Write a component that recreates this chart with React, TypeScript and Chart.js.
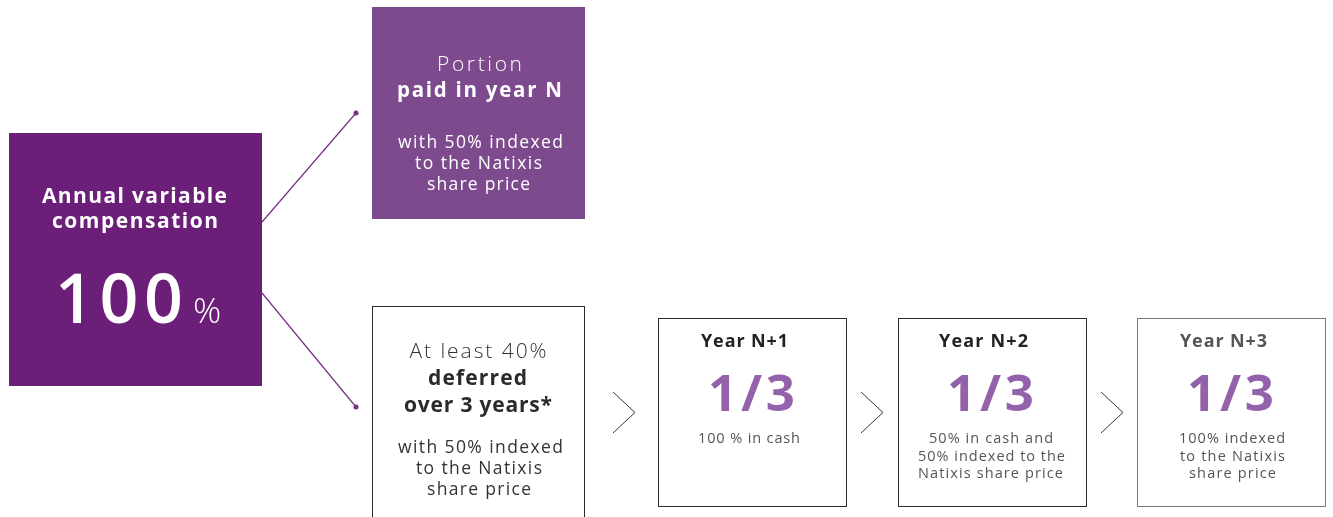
import React, { useEffect, useRef } from "react";
import { Chart, registerables } from "chart.js";
Chart.register(...registerables);

// ---- content ----
const totalLabel = ["Annual variable", "compensation"];
const totalValue = "100";
const totalUnit = "%";
const paidNowLines = ["Portion", "paid in year N"];
const paidNowNote = ["with 50% indexed", "to the Natixis", "share price"];
const deferredLines = ["At least 40%", "deferred", "over 3 years*"];
const deferredNote = ["with 50% indexed", "to the Natixis", "share price"];
const yearLabels = ["Year N+1", "Year N+2", "Year N+3"];
const yearShares = ["1/3", "1/3", "1/3"];
const yearNotes = [
  ["100 % in cash"],
  ["50% in cash and", "50% indexed to the", "Natixis share price"],
  ["100% indexed", "to the Natixis", "share price"],
];

// ---- layout (diagram coordinates on hidden linear axes) ----
const W = 1333;
const H = 517;
const L = {
  total: { x0: 9, y0: 133, x1: 262, y1: 386 },
  now: { x0: 372, y0: 7, x1: 585, y1: 219 },
  deferred: { x0: 372, y0: 306, x1: 585, y1: 540 },
  years: [
    { x0: 658, y0: 318, x1: 847, y1: 507 },
    { x0: 898, y0: 318, x1: 1087, y1: 507 },
    { x0: 1137, y0: 318, x1: 1326, y1: 507 },
  ],
  chevrons: [613, 861, 1101],
  connectorUp: [{ x: 262, y: 222 }, { x: 356, y: 113 }],
  connectorDown: [{ x: 262, y: 293 }, { x: 356, y: 407 }],
};
// text placement: [centerX, baseline, weight, size, width]
const T_total = [
  [134.5, 203, 700, 21, 185],
  [135, 228, 700, 21, 166],
];
const T_value = [119, 323, 600, 68, 128];
const T_unit = [208.5, 323, 300, 35, 31];
const T_now = [
  [479.5, 71, 300, 21, 85],
  [479.5, 97, 700, 20.5, 165],
  [480.5, 148, 400, 17.5, 165],
  [478.5, 169, 400, 17.5, 127],
  [478.5, 190, 400, 17.5, 103],
];
const T_def = [
  [478, 358, 300, 21, 137],
  [477.5, 385, 700, 21, 99],
  [478, 412, 700, 21, 148],
  [480.5, 453, 400, 17.5, 165],
  [479, 474, 400, 17.5, 126],
  [479, 495, 400, 17.5, 104],
];
const yearLabelX = [744.5, 983.5, 1223.5];
const yearLabelW = [87, 89, 87];
const yearShareX = [751.5, 990.5, 1230.5];
const yearNoteLayout = [
  [[749, 443, 102]],
  [[991, 443, 124], [991.5, 460.5, 147], [990.5, 478, 145]],
  [[1232, 443, 106], [1232.5, 460.5, 105], [1232.5, 478, 87]],
];

const FONT = "'Open Sans', 'DejaVu Sans', sans-serif";
const DARK_PURPLE = "#6b1f79";
const MID_PURPLE = "#7e4a8e";
const ACCENT = "#9461ab";
const LINE_PURPLE = "#7a2d86";

const diagramPlugin = {
  id: "diagram",
  afterDatasetsDraw(chart: any) {
    const ctx: CanvasRenderingContext2D = chart.ctx;
    const xs = chart.scales.x;
    const ys = chart.scales.y;
    const px = (v: number) => xs.getPixelForValue(v);
    const py = (v: number) => ys.getPixelForValue(v);

    const fillBox = (b: any, color: string) => {
      ctx.fillStyle = color;
      ctx.fillRect(px(b.x0), py(b.y0), px(b.x1) - px(b.x0), py(b.y1) - py(b.y0));
    };
    const strokeBox = (b: any, color: string) => {
      ctx.strokeStyle = color;
      ctx.lineWidth = 1;
      ctx.strokeRect(
        Math.round(px(b.x0)) + 0.5,
        Math.round(py(b.y0)) + 0.5,
        Math.round(px(b.x1) - px(b.x0)) - 1,
        Math.round(py(b.y1) - py(b.y0)) - 1
      );
    };
    // draw text centred at cx, fitted to width by letter spacing
    const text = (s: string, spec: number[], color: string) => {
      const [cx, y, weight, size, width] = spec;
      ctx.font = `${weight} ${size}px ${FONT}`;
      (ctx as any).letterSpacing = "0px";
      const w0 = ctx.measureText(s).width;
      const n = Array.from(s).length;
      const target = px(cx + width / 2) - px(cx - width / 2);
      const sp = n > 1 ? (target - w0) / (n - 1) : 0;
      (ctx as any).letterSpacing = `${sp}px`;
      ctx.fillStyle = color;
      ctx.textAlign = "left";
      ctx.textBaseline = "alphabetic";
      ctx.fillText(s, px(cx) - target / 2, py(y));
      (ctx as any).letterSpacing = "0px";
    };

    ctx.save();
    // total box
    fillBox(L.total, DARK_PURPLE);
    totalLabel.forEach((s, i) => text(s, T_total[i], "#ffffff"));
    text(totalValue, T_value, "#ffffff");
    text(totalUnit, T_unit, "#ffffff");

    // paid now box
    fillBox(L.now, MID_PURPLE);
    [...paidNowLines, ...paidNowNote].forEach((s, i) => text(s, T_now[i], "#ffffff"));

    // deferred box
    strokeBox(L.deferred, "#2a2a2a");
    [...deferredLines, ...deferredNote].forEach((s, i) =>
      text(s, T_def[i], i === 1 || i === 2 ? "#2a2a2a" : "#333333")
    );

    // year boxes
    L.years.forEach((b, i) => {
      const last = i === L.years.length - 1;
      strokeBox(b, last ? "#7a7a7a" : "#2a2a2a");
      text(yearLabels[i], [yearLabelX[i], 347, 700, 18, yearLabelW[i]], last ? "#555555" : "#222222");
      text(yearShares[i], [yearShareX[i], 411, 700, 51, 87], ACCENT);
      yearNotes[i].forEach((s, j) => {
        const [cx, y, w] = yearNoteLayout[i][j];
        text(s, [cx, y, 400, 14.5, w], "#555555");
      });
    });

    // chevrons
    ctx.strokeStyle = "#333333";
    ctx.lineWidth = 1;
    L.chevrons.forEach((x) => {
      ctx.beginPath();
      ctx.moveTo(px(x), py(392));
      ctx.lineTo(px(x + 22), py(412.5));
      ctx.lineTo(px(x), py(433));
      ctx.stroke();
    });
    ctx.restore();
  },
};

export default function App() {
  const ref = useRef<HTMLCanvasElement | null>(null);
  useEffect(() => {
    document.body.style.margin = "0";
    const chart = new Chart(ref.current as HTMLCanvasElement, {
      type: "scatter",
      data: {
        datasets: [
          {
            data: L.connectorUp,
            showLine: true,
            borderColor: LINE_PURPLE,
            backgroundColor: LINE_PURPLE,
            borderWidth: 1.2,
            pointRadius: [0, 2.5],
            pointBorderWidth: 0,
          },
          {
            data: L.connectorDown,
            showLine: true,
            borderColor: LINE_PURPLE,
            backgroundColor: LINE_PURPLE,
            borderWidth: 1.2,
            pointRadius: [0, 2.5],
            pointBorderWidth: 0,
          },
        ],
      },
      options: {
        animation: false,
        responsive: false,
        maintainAspectRatio: false,
        layout: { padding: 0, autoPadding: false },
        plugins: { legend: { display: false }, tooltip: { enabled: false } },
        scales: {
          x: { type: "linear", min: 0, max: W, display: false },
          y: { type: "linear", min: 0, max: H, reverse: true, display: false },
        },
      },
      plugins: [diagramPlugin],
    });
    return () => chart.destroy();
  }, []);
  return (
    <div style={{ width: W, height: H, background: "#ffffff" }}>
      <canvas ref={ref} width={W} height={H} style={{ display: "block" }} />
    </div>
  );
}
